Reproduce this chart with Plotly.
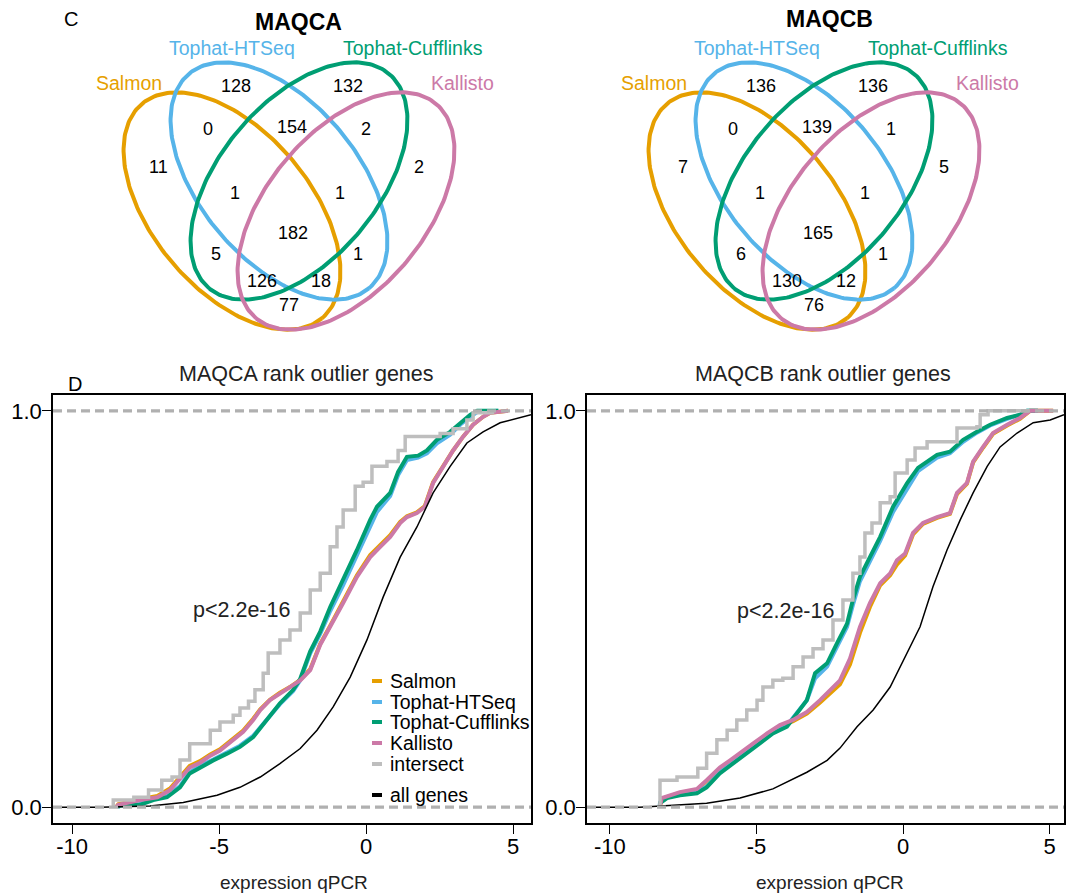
import numpy as np
import plotly.graph_objects as go

W, H = 1072, 893
FONT = "Liberation Sans, Arial, Helvetica, sans-serif"

# ---------------- colours ----------------
C_SAL = "#E69F00"
C_HTS = "#56B4E9"
C_CUF = "#009E73"
C_KAL = "#CC79A7"
C_INT = "#BEBEBE"
C_ALL = "#000000"

methods = ["Salmon", "Tophat-HTSeq", "Tophat-Cufflinks", "Kallisto"]
method_colors = [C_SAL, C_HTS, C_CUF, C_KAL]

# ---------------- Venn counts ----------------
# region order: H only, C only, S&H, H&C, C&K, S only, K only, S&H&C, H&C&K,
#               all four, S&C, H&K, S&C&K, S&H&K, S&K
venn_a_counts = [128, 132, 0, 154, 2, 11, 2, 1, 1, 182, 5, 1, 126, 18, 77]
venn_b_counts = [136, 136, 0, 139, 1, 7, 5, 1, 1, 165, 6, 1, 130, 12, 76]
venn_titles = ["MAQCA", "MAQCB"]

# ---------------- ECDF data, MAQCA ----------------
a_x_int = [-8.6, -8.6, -7.9, -7.4, -6.95, -6.6, -6.33, -6.0, -5.3, -4.97, -4.52, -4.29, -4.0,
           -3.78, -3.5, -3.33, -2.93, -2.59, -2.24, -1.9, -1.56, -1.22, -0.99, -0.78, -0.37,
           -0.1, 0.2, 0.71, 1.09, 1.33, 2.52, 2.96, 3.43, 3.64, 4.3]
a_y_int = [0.0, 0.018, 0.025, 0.043, 0.068, 0.076, 0.119, 0.16, 0.194, 0.215, 0.232, 0.25, 0.267,
           0.296, 0.338, 0.389, 0.422, 0.447, 0.49, 0.548, 0.59, 0.657, 0.707, 0.75, 0.81,
           0.82, 0.86, 0.872, 0.90, 0.935, 0.943, 0.955, 0.977, 0.995, 1.0]

a_x_cuf = [-8.45, -8.37, -7.69, -7.24, -6.77, -6.33, -6.0, -5.65, -5.2, -4.73, -4.29, -3.84, -3.38,
           -2.93, -2.48, -2.24, -1.9, -1.56, -1.22, -0.78, -0.31, 0.14, 0.37, 0.82, 1.09, 1.39,
           1.77, 2.07, 2.41, 2.86, 3.2, 3.54, 3.78, 4.5]
a_y_cuf = [0.0, 0.004, 0.006, 0.018, 0.025, 0.05, 0.085, 0.10, 0.118, 0.135, 0.152, 0.177, 0.22,
           0.262, 0.296, 0.324, 0.393, 0.443, 0.505, 0.573, 0.649, 0.725, 0.758, 0.793, 0.846, 0.884,
           0.887, 0.90, 0.927, 0.947, 0.97, 0.99, 1.0, 1.0]
a_x_hts = a_x_cuf
a_y_hts = [0.0, 0.005, 0.008, 0.021, 0.028, 0.053, 0.088, 0.104, 0.12, 0.138, 0.155, 0.18, 0.222,
           0.26, 0.293, 0.32, 0.388, 0.437, 0.495, 0.56, 0.636, 0.71, 0.745, 0.785, 0.838, 0.876,
           0.882, 0.893, 0.918, 0.94, 0.965, 0.985, 0.997, 1.0]

a_x_kal = [-8.5, -8.43, -7.69, -7.1, -6.67, -6.26, -6.0, -5.65, -5.3, -4.97, -4.52, -4.18, -3.84,
           -3.6, -3.27, -2.93, -2.59, -2.24, -1.9, -1.56, -1.22, -0.78, -0.31, 0.14, 0.48, 0.82,
           1.16, 1.39, 1.73, 2.0, 2.28, 2.62, 2.96, 3.3, 3.64, 3.98, 4.22, 4.83]
a_y_kal = [0.0, 0.006, 0.018, 0.025, 0.043, 0.076, 0.10, 0.112, 0.13, 0.143, 0.17, 0.19, 0.22,
           0.245, 0.27, 0.288, 0.303, 0.32, 0.346, 0.41, 0.455, 0.515, 0.581, 0.631, 0.657, 0.682,
           0.717, 0.732, 0.742, 0.758, 0.818, 0.86, 0.90, 0.935, 0.965, 0.985, 0.995, 1.0]
a_x_sal = a_x_kal
a_y_sal = [0.0, 0.007, 0.02, 0.028, 0.047, 0.082, 0.104, 0.116, 0.133, 0.146, 0.173, 0.193, 0.223,
           0.247, 0.271, 0.289, 0.303, 0.321, 0.348, 0.412, 0.458, 0.52, 0.585, 0.636, 0.662, 0.686,
           0.72, 0.734, 0.744, 0.76, 0.82, 0.862, 0.90, 0.935, 0.965, 0.985, 0.995, 1.0]

a_x_all = [-10.65, -9.05, -7.35, -6.22, -5.07, -4.29, -3.6, -2.93, -2.24, -1.67, -1.12, -0.54,
           0.03, 0.58, 1.16, 1.73, 2.28, 2.86, 3.43, 3.98, 4.56, 5.14, 5.61]
a_y_all = [0.0, 0.0, 0.003, 0.012, 0.03, 0.05, 0.076, 0.11, 0.148, 0.194, 0.253, 0.328,
           0.422, 0.53, 0.631, 0.707, 0.793, 0.86, 0.919, 0.947, 0.97, 0.982, 0.99]

# ---------------- ECDF data, MAQCB ----------------
b_x_int = [-8.29, -8.29, -7.71, -7.0, -6.7, -6.35, -6.0, -5.67, -5.33, -4.98, -4.78, -4.44, -4.1,
           -3.75, -3.41, -3.07, -2.73, -2.39, -2.05, -1.71, -1.47, -1.3, -1.06, -0.78, -0.44,
           -0.27, 0.14, 0.41, 0.82, 1.84, 2.52, 2.63, 2.9, 4.3]
b_y_int = [0.0, 0.068, 0.076, 0.098, 0.136, 0.17, 0.194, 0.22, 0.245, 0.27, 0.303, 0.32, 0.325,
           0.354, 0.379, 0.40, 0.422, 0.472, 0.523, 0.59, 0.631, 0.692, 0.717, 0.768, 0.783,
           0.843, 0.876, 0.906, 0.922, 0.957, 0.96, 0.99, 1.0, 1.0]

b_x_cuf = [-8.3, -8.29, -8.05, -7.61, -7.03, -6.7, -6.25, -5.8, -5.33, -4.88, -4.44, -3.96, -3.62,
           -3.28, -3.0, -2.59, -2.25, -1.91, -1.71, -1.47, -1.13, -0.78, -0.34, 0.14, 0.51, 1.16,
           1.6, 2.05, 2.52, 2.97, 3.55, 3.99, 4.23, 4.6]
b_y_cuf = [0.0, 0.01, 0.023, 0.03, 0.035, 0.05, 0.085, 0.11, 0.135, 0.16, 0.186, 0.203, 0.237,
           0.27, 0.338, 0.363, 0.414, 0.463, 0.523, 0.581, 0.631, 0.682, 0.758, 0.818, 0.856, 0.889,
           0.897, 0.927, 0.947, 0.965, 0.982, 0.99, 1.0, 1.0]
b_x_hts = b_x_cuf
b_y_hts = [0.0, 0.012, 0.025, 0.032, 0.037, 0.052, 0.088, 0.113, 0.138, 0.163, 0.188, 0.206, 0.238,
           0.27, 0.325, 0.355, 0.405, 0.455, 0.51, 0.57, 0.62, 0.672, 0.745, 0.805, 0.848, 0.882,
           0.893, 0.922, 0.945, 0.963, 0.98, 0.99, 1.0, 1.0]

b_x_kal = [-8.3, -8.23, -7.61, -7.03, -6.7, -6.25, -5.9, -5.56, -5.12, -4.64, -4.2, -3.75, -3.28,
           -2.83, -2.39, -2.15, -1.81, -1.47, -1.13, -0.78, -0.44, -0.21, 0.07, 0.34, 0.68, 1.16,
           1.6, 1.84, 2.18, 2.39, 2.73, 3.07, 3.55, 3.99, 4.33, 5.12]
b_y_kal = [0.0, 0.023, 0.038, 0.046, 0.068, 0.10, 0.118, 0.135, 0.16, 0.186, 0.207, 0.22, 0.24,
           0.27, 0.303, 0.32, 0.375, 0.455, 0.515, 0.565, 0.59, 0.623, 0.64, 0.692, 0.717, 0.732,
           0.742, 0.793, 0.818, 0.872, 0.909, 0.944, 0.965, 0.982, 1.0, 1.0]
b_x_sal = b_x_kal
b_y_sal = [0.0, 0.021, 0.036, 0.044, 0.066, 0.097, 0.115, 0.132, 0.156, 0.182, 0.203, 0.217, 0.236,
           0.264, 0.295, 0.31, 0.36, 0.44, 0.505, 0.56, 0.585, 0.612, 0.635, 0.688, 0.715, 0.73,
           0.74, 0.79, 0.816, 0.87, 0.907, 0.942, 0.963, 0.98, 1.0, 1.0]

b_x_all = [-10.78, -8.98, -6.7, -5.56, -4.44, -3.28, -2.59, -2.15, -1.57, -1.02, -0.44, 0.14,
           0.58, 1.02, 1.5, 1.95, 2.39, 2.87, 3.31, 3.89, 4.44, 5.02, 5.49]
b_y_all = [0.0, 0.0, 0.01, 0.023, 0.046, 0.088, 0.118, 0.149, 0.203, 0.245, 0.303, 0.389,
           0.455, 0.556, 0.649, 0.725, 0.793, 0.86, 0.909, 0.944, 0.97, 0.977, 0.99]

panel_titles = ["MAQCA rank outlier genes", "MAQCB rank outlier genes"]
legend_labels = ["Salmon", "Tophat-HTSeq", "Tophat-Cufflinks", "Kallisto", "intersect", "all genes"]
legend_colors = [C_SAL, C_HTS, C_CUF, C_KAL, C_INT, C_ALL]
pvalue_text = "p<2.2e-16"
x_ticks = [-10, -5, 0, 5]
x_ticklabels = ["-10", "-5", "0", "5"]
y_ticks = [0, 1]
y_ticklabels = ["0.0", "1.0"]

# ---------------- layout constants (pixels) ----------------
panel_px = [(53, 531), (587, 1064)]
panel_top, panel_bot = 395, 823
x_ranges = [[-10.65, 5.61], [-10.78, 5.49]]
y_range = [-0.04, 1.04]
VENN_H = 345
venn_dx = [0, 525]

fig = go.Figure()

# ---------------- ECDF panels ----------------
panel_data = [
    [(a_x_sal, a_y_sal), (a_x_hts, a_y_hts), (a_x_cuf, a_y_cuf), (a_x_kal, a_y_kal),
     (a_x_int, a_y_int), (a_x_all, a_y_all)],
    [(b_x_sal, b_y_sal), (b_x_hts, b_y_hts), (b_x_cuf, b_y_cuf), (b_x_kal, b_y_kal),
     (b_x_int, b_y_int), (b_x_all, b_y_all)],
]
widths = [4, 4, 4, 4, 3.5, 1.5]
shapes_ = ["linear", "linear", "linear", "linear", "hv", "linear"]
for p, series in enumerate(panel_data):
    xa = "x" if p == 0 else "x2"
    ya = "y" if p == 0 else "y2"
    for i, (xs, ys) in enumerate(series):
        fig.add_trace(go.Scatter(x=xs, y=ys, mode="lines", xaxis=xa, yaxis=ya,
                                 line=dict(color=legend_colors[i], width=widths[i],
                                           shape=shapes_[i]),
                                 name=legend_labels[i], showlegend=False, hoverinfo="skip"))

# ---------------- Venn ellipses (pixel geometry) ----------------
ell_cx = [232, 279, 299, 346]
ell_cy = [211, 181, 181, 211]
ell_ang = [50, 50, 130, 130]
ell_a, ell_b = 140, 79
t = np.linspace(0, 2 * np.pi, 241)
for v in range(2):
    for k in range(4):
        ph = np.deg2rad(ell_ang[k])
        ex = ell_cx[k] + venn_dx[v] + ell_a * np.cos(t) * np.cos(ph) - ell_b * np.sin(t) * np.sin(ph)
        ey = ell_cy[k] + ell_a * np.cos(t) * np.sin(ph) + ell_b * np.sin(t) * np.cos(ph)
        fig.add_trace(go.Scatter(x=ex, y=ey, mode="lines", xaxis="x3", yaxis="y3",
                                 line=dict(color=method_colors[k], width=4),
                                 showlegend=False, hoverinfo="skip"))

annotations = []
region_pos = [(236, 86), (348, 86), (208, 129), (292, 127), (366, 129), (158, 167), (419, 167),
              (235, 193), (340, 193), (293, 233), (216, 254), (358, 254), (262, 281),
              (321, 281), (289, 305)]
for v, counts in enumerate([venn_a_counts, venn_b_counts]):
    for (px, py), c in zip(region_pos, counts):
        annotations.append(dict(x=px + venn_dx[v], y=py, xref="x3", yref="y3", text=str(c),
                                showarrow=False, xanchor="center", yanchor="middle",
                                font=dict(size=18, color="black", family=FONT)))
    label_pos = [(129, 83), (231.5, 48), (412.5, 48), (462, 83)]
    for k, (px, py) in enumerate(label_pos):
        annotations.append(dict(x=px + venn_dx[v], y=py, xref="x3", yref="y3", text=methods[k],
                                showarrow=False, xanchor="center", yanchor="middle",
                                font=dict(size=19.5, color=method_colors[k], family=FONT)))
title_pos = [(298, 22), (829, 19)]
for v in range(2):
    annotations.append(dict(x=title_pos[v][0], y=title_pos[v][1], xref="x3", yref="y3",
                            text="<b>" + venn_titles[v] + "</b>", showarrow=False,
                            xanchor="center", yanchor="middle",
                            font=dict(size=23, color="black", family=FONT)))
annotations.append(dict(x=71, y=19, xref="x3", yref="y3", text="C", showarrow=False,
                        xanchor="center", yanchor="middle",
                        font=dict(size=20, color="black", family=FONT)))

# panel labels / titles (paper coordinates from pixels)
annotations.append(dict(x=75 / W, y=1 - 384 / H, xref="paper", yref="paper",
                        text="D", showarrow=False, xanchor="center", yanchor="middle",
                        font=dict(size=20, color="black", family=FONT)))
title_cx = [306, 823]
p_pos = [(241, 610), (785, 611)]
xlabel_cx = [294, 830]
for p in range(2):
    annotations.append(dict(x=title_cx[p] / W, y=1 - 374 / H, xref="paper", yref="paper",
                            text=panel_titles[p], showarrow=False,
                            xanchor="center", yanchor="middle",
                            font=dict(size=21.5, color="#222222", family=FONT)))
    annotations.append(dict(x=p_pos[p][0] / W, y=1 - p_pos[p][1] / H, xref="paper", yref="paper",
                            text=pvalue_text, showarrow=False,
                            xanchor="center", yanchor="middle",
                            font=dict(size=21.5, color="#222222", family=FONT)))
    annotations.append(dict(x=xlabel_cx[p] / W, y=1 - 882 / H, xref="paper", yref="paper",
                            text="expression qPCR", showarrow=False,
                            xanchor="center", yanchor="middle",
                            font=dict(size=19, color="#222222", family=FONT)))

# legend (left panel)
leg_y = [681, 702, 722, 743, 764, 795]
shapes = []
for i, lab in enumerate(legend_labels):
    shapes.append(dict(type="line", xref="paper", yref="paper", x0=372 / W, x1=382 / W,
                       y0=1 - leg_y[i] / H, y1=1 - leg_y[i] / H,
                       line=dict(color=legend_colors[i], width=4)))
    annotations.append(dict(x=388 / W, y=1 - leg_y[i] / H, xref="paper", yref="paper",
                            text=lab, showarrow=False, xanchor="left", yanchor="middle",
                            font=dict(size=19.5, color="black", family=FONT)))

# dashed reference lines at 0 and 1
for p in range(2):
    xr = "x domain" if p == 0 else "x2 domain"
    yr = "y" if p == 0 else "y2"
    for yv in (0, 1):
        shapes.append(dict(type="line", xref=xr, yref=yr, x0=0, x1=1, y0=yv, y1=yv,
                           line=dict(color="#B0B0B0", width=3.2, dash="9px,5px")))

axis_common = dict(showgrid=False, zeroline=False, showline=True, linecolor="black",
                   linewidth=1.5, mirror=True, ticks="outside", ticklen=9, tickwidth=1.3,
                   tickcolor="black", tickfont=dict(size=22, color="black", family=FONT))
ydom = [1 - panel_bot / H, 1 - panel_top / H]
layout = dict(
    width=W, height=H, margin=dict(l=0, r=0, t=0, b=0),
    paper_bgcolor="white", plot_bgcolor="white", showlegend=False,
    font=dict(family=FONT),
    xaxis=dict(domain=[panel_px[0][0] / W, panel_px[0][1] / W], range=x_ranges[0],
               tickvals=x_ticks, ticktext=x_ticklabels, anchor="y", **axis_common),
    yaxis=dict(domain=ydom, range=y_range, tickvals=y_ticks, ticktext=y_ticklabels,
               anchor="x", **axis_common),
    xaxis2=dict(domain=[panel_px[1][0] / W, panel_px[1][1] / W], range=x_ranges[1],
                tickvals=x_ticks, ticktext=x_ticklabels, anchor="y2", **axis_common),
    yaxis2=dict(domain=ydom, range=y_range, tickvals=y_ticks, ticktext=y_ticklabels,
                anchor="x2", **axis_common),
    xaxis3=dict(domain=[0, 1], range=[0, W], visible=False, anchor="y3"),
    yaxis3=dict(domain=[1 - VENN_H / H, 1], range=[VENN_H, 0], visible=False, anchor="x3"),
    annotations=annotations, shapes=shapes,
)
fig.update_layout(**layout)

# pull tick labels a little closer to the ticks (as in the reference)
try:
    fig.update_layout(xaxis_ticklabelstandoff=-6, xaxis2_ticklabelstandoff=-6,
                      yaxis_ticklabelstandoff=-4, yaxis2_ticklabelstandoff=-4)
except Exception:
    pass

fig.write_html("out.html", config={"displayModeBar": False},
               post_script="document.body.style.margin='0px';document.body.style.overflow='hidden';")
